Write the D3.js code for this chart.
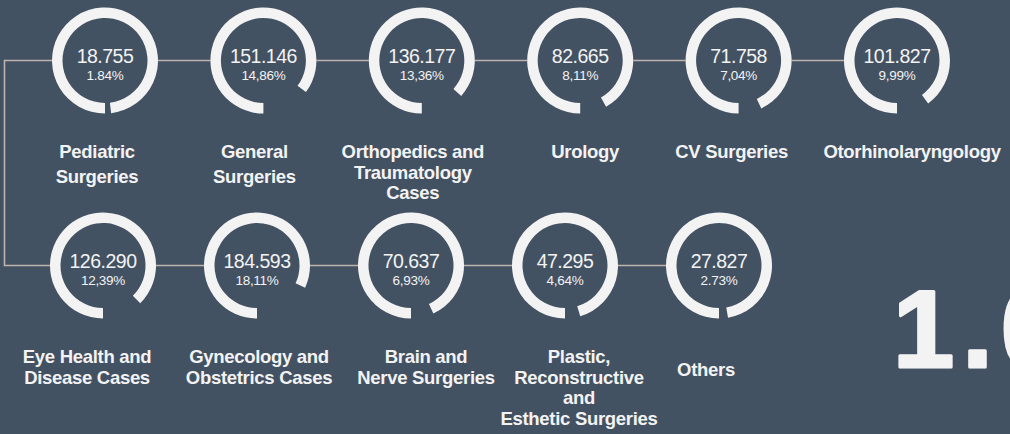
<!DOCTYPE html>
<html>
<head>
<meta charset="utf-8">
<script src="https://cdnjs.cloudflare.com/ajax/libs/d3/7.8.5/d3.min.js"></script>
<style>
  html, body { margin: 0; padding: 0; background: #435263; }
  svg { display: block; font-family: "Liberation Sans", Arial, Helvetica, sans-serif; }
</style>
</head>
<body>
<div id="chart"></div>
<script>
// surgery categories, split in the two rows of the picture
var topCategories = ['Pediatric\nSurgeries', 'General\nSurgeries', 'Orthopedics and\nTraumatology\nCases',
  'Urology', 'CV Surgeries', 'Otorhinolaryngology'];
var topValues = [18755, 151146, 136177, 82665, 71758, 101827];
var topPercents = ['1.84%', '14,86%', '13,36%', '8,11%', '7,04%', '9,99%'];

var bottomCategories = ['Eye Health and\nDisease Cases', 'Gynecology and\nObstetrics Cases', 'Brain and\nNerve Surgeries',
  'Plastic,\nReconstructive\nand\nEsthetic Surgeries', 'Others'];
var bottomValues = [126290, 184593, 70637, 47295, 27827];
var bottomPercents = ['12,39%', '18,11%', '6,93%', '4,64%', '2.73%'];

// label nudges (px), the captions are not exactly under the rings
var topNudge = [-8, -9, -9, 5, -7, 15];
var bottomNudge = [-16, 2, 15, 14, -13];

var width = 1010, height = 434;
var bg = '#435263', ink = '#f3f3f3', lineColor = '#bdb3aa';
var outerR = 53, innerR = 42.5;

var total = d3.sum(topValues) + d3.sum(bottomValues);
var fmt = d3.formatLocale({ decimal: ',', thousands: '.', grouping: [3], currency: ['', ''] }).format(',d');

var svg = d3.select('#chart').append('svg')
  .attr('width', width)
  .attr('height', height);

svg.append('rect').attr('width', width).attr('height', height).attr('fill', bg);

var rows = [
  { cats: topCategories, vals: topValues, pcts: topPercents, nudge: topNudge, cy: 60.5, range: [105, 897], top: true },
  { cats: bottomCategories, vals: bottomValues, pcts: bottomPercents, nudge: bottomNudge, cy: 265.5, range: [103, 719], top: false }
];

rows.forEach(function(row){
  row.x = d3.scalePoint().domain(row.cats).range(row.range);
});

// connector lines
var lineX = 4.5;
var connector = d3.path();
connector.moveTo(rows[0].x(topCategories[topCategories.length - 1]), rows[0].cy);
connector.lineTo(lineX, rows[0].cy);
connector.lineTo(lineX, rows[1].cy);
connector.lineTo(rows[1].x(bottomCategories[bottomCategories.length - 1]), rows[1].cy);
svg.append('path')
  .attr('d', connector.toString())
  .attr('fill', 'none')
  .attr('stroke', lineColor)
  .attr('stroke-width', 1.6);

var arc = d3.arc().innerRadius(innerR).outerRadius(outerR);

rows.forEach(function(row){
  var data = row.cats.map(function(c, i){
    return { cat: c, value: row.vals[i], pct: row.pcts[i], nudge: row.nudge[i] };
  });

  var g = svg.selectAll(null)
    .data(data)
    .enter()
    .append('g')
    .attr('transform', function(d){ return 'translate(' + row.x(d.cat) + ',' + row.cy + ')'; });

  g.append('circle')
    .attr('r', outerR)
    .attr('fill', bg);

  // ring with a gap the size of the share, gap opening from 6 o'clock
  g.append('path')
    .attr('fill', ink)
    .attr('d', function(d){
      return arc({ startAngle: Math.PI, endAngle: 3 * Math.PI - 2 * Math.PI * d.value / total });
    });

  g.append('text')
    .attr('text-anchor', 'middle')
    .attr('y', 2)
    .attr('fill', ink)
    .style('font-size', '19.5px')
    .style('letter-spacing', '-0.5px')
    .text(function(d){ return fmt(d.value); });

  g.append('text')
    .attr('text-anchor', 'middle')
    .attr('y', 19)
    .attr('fill', ink)
    .style('font-size', '13.5px')
    .style('letter-spacing', '-0.3px')
    .text(function(d){ return d.pct; });

  var label = g.append('text')
    .attr('text-anchor', 'middle')
    .attr('fill', ink)
    .style('font-size', '18.5px')
    .style('font-weight', 'bold')
    .style('letter-spacing', '-0.3px')
    .attr('transform', function(d){
      var lines = d.cat.split('\n').length;
      var shift = (!row.top && lines === 1) ? 13 : 0;
      return 'translate(' + d.nudge + ',' + (97.5 + shift) + ')';
    });

  label.selectAll('tspan')
    .data(function(d){
      var lines = d.cat.split('\n');
      var lead = (row.top && lines.length === 2) ? 25 : 20.5;
      return lines.map(function(t){ return { t: t, lead: lead }; });
    })
    .enter()
    .append('tspan')
    .attr('x', 0)
    .attr('dy', function(d, i){ return i === 0 ? 0 : d.lead; })
    .text(function(d){ return d.t; });
});

// big total, cut by the right edge as in the original
svg.append('text')
  .attr('x', 893)
  .attr('y', 367)
  .attr('fill', ink)
  .attr('stroke', ink)
  .attr('stroke-width', 3)
  .attr('stroke-linejoin', 'round')
  .style('font-size', '110px')
  .style('font-weight', 'bold')
  .style('letter-spacing', '8px')
  .text(fmt(total));
</script>
</body>
</html>
